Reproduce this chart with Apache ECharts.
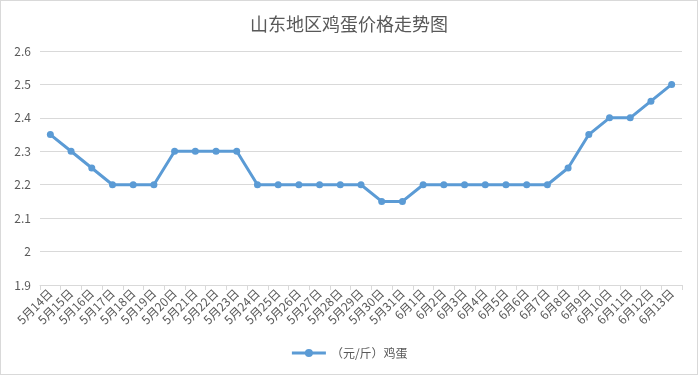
<!DOCTYPE html>
<html><head><meta charset="utf-8">
<script src="https://cdn.jsdelivr.net/npm/echarts@6/dist/echarts.min.js"></script>
<style>html,body{margin:0;padding:0;background:#fff}#c{width:698px;height:375px;box-sizing:border-box;border:1px solid #d9d9d9}</style>
</head><body><div id="c"></div>
<script>
var categories = ["5月14日","5月15日","5月16日","5月17日","5月18日","5月19日","5月20日","5月21日","5月22日","5月23日","5月24日","5月25日","5月26日","5月27日","5月28日","5月29日","5月30日","5月31日","6月1日","6月2日","6月3日","6月4日","6月5日","6月6日","6月7日","6月8日","6月9日","6月10日","6月11日","6月12日","6月13日"];
var eggPrice = [2.35,2.3,2.25,2.2,2.2,2.2,2.3,2.3,2.3,2.3,2.2,2.2,2.2,2.2,2.2,2.2,2.15,2.15,2.2,2.2,2.2,2.2,2.2,2.2,2.2,2.25,2.35,2.4,2.4,2.45,2.5];
var seriesName = "（元/斤）鸡蛋";
var titleText = "山东地区鸡蛋价格走势图";
var font = "'Noto Sans CJK SC', sans-serif";
var chart = echarts.init(document.getElementById('c'));
chart.setOption({
  animation:false,
  title:{text:titleText,left:'center',top:9,textStyle:{fontFamily:font,fontSize:18,fontWeight:'normal',color:'#595959'}},
  grid:{left:39,right:15,top:50,bottom:89,containLabel:false},
  legend:{bottom:10,left:'center',itemWidth:34,itemHeight:10,lineStyle:{width:3},textStyle:{fontFamily:font,fontSize:12,color:'#595959'},data:[seriesName]},
  xAxis:{type:'category',data:categories,boundaryGap:true,
    axisLine:{lineStyle:{color:'#d9d9d9'}},
    axisTick:{show:true,length:5,lineStyle:{color:'#d9d9d9'}},
    axisLabel:{interval:0,rotate:45,fontFamily:font,fontSize:12,color:'#595959',margin:6}},
  yAxis:{type:'value',min:1.9,max:2.6,interval:0.1,
    axisLine:{show:false},axisTick:{show:false},
    splitLine:{lineStyle:{color:'#d9d9d9'}},
    axisLabel:{fontFamily:font,fontSize:12,color:'#595959',margin:9,formatter:function(v){return String(Math.round(v*10)/10);}}},
  series:[{name:seriesName,type:'line',data:eggPrice,symbol:'circle',symbolSize:7,
    lineStyle:{width:3,color:'#5B9BD5'},itemStyle:{color:'#5B9BD5'}}]
});
</script></body></html>
